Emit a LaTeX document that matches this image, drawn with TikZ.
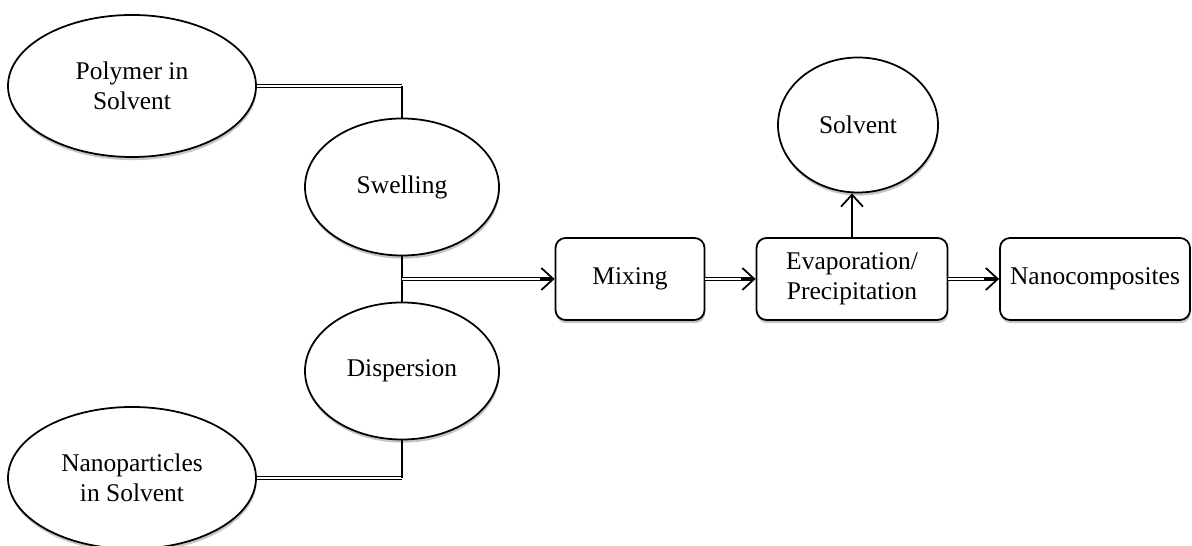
\documentclass[tikz,border=0pt]{standalone}
\usepackage{fontspec}
\setmainfont{Liberation Serif}
\usetikzlibrary{shapes.geometric,arrows.meta,shadows}
\begin{document}
\begin{tikzpicture}[line width=1pt,font=\fontsize{14.5}{17}\selectfont,
  bubble/.style={ellipse,draw,fill=white,inner sep=0pt,align=center,
    drop shadow={shadow xshift=0.4pt,shadow yshift=-1.8pt,fill=black!45}},
  stepbox/.style={rectangle,rounded corners=0.2cm,draw,fill=white,align=center,
    inner sep=0pt,minimum height=1.64cm,
    drop shadow={shadow xshift=0.4pt,shadow yshift=-1.8pt,fill=black!45}},
  dline/.style={double,double distance=1.3pt,line width=0.6pt},
  darrow/.style={dline,shorten >=1.5pt},
  barb/.style={line width=1pt,-{Straight Barb[length=2.4mm,width=4.4mm]}}]
  \useasboundingbox (0,0) rectangle (23.84,10.92);

  % starting solutions
  \node[bubble,minimum width=4.96cm,minimum height=2.84cm] (poly) at (2.64,9.2) {Polymer in\\Solvent};
  \node[bubble,minimum width=4.96cm,minimum height=2.84cm] (nano) at (2.64,1.36) {Nanoparticles\\in Solvent};

  % swelling / dispersion
  \node[bubble,minimum width=3.88cm,minimum height=2.74cm] (swell) at (8.04,7.18) {Swelling};
  \node[bubble,minimum width=3.88cm,minimum height=2.74cm] (disp) at (8.04,3.5) {Dispersion};

  % process steps
  \node[stepbox,minimum width=2.98cm] (mix) at (12.6,5.34) {Mixing};
  \node[stepbox,minimum width=3.82cm] (evap) at (17.04,5.34) {Evaporation/\\Precipitation};
  \node[stepbox,minimum width=3.8cm] (nanoc) at (21.9,5.34) {Nanocomposites};
  \node[bubble,minimum width=3.2cm,minimum height=2.7cm] (solv) at (17.16,8.42) {Solvent};

  \coordinate (polyjoin) at (swell.north |- poly.east);
  \coordinate (nanojoin) at (disp.south |- nano.east);
  \coordinate (mixjoin) at (swell.south |- mix.west);

  % connectors
  \draw[dline] (poly.east) -- (polyjoin);
  \draw (polyjoin) -- (swell.north);
  \draw[dline] (nano.east) -- (nanojoin);
  \draw (nanojoin) -- (disp.south);
  \draw (swell.south) -- (disp.north);
  \draw[darrow] (mixjoin) -- (mix.west);
  \draw[darrow] (mix.east) -- (evap.west);
  \draw[darrow] (evap.east) -- (nanoc.west);
  \draw[barb] ([xshift=-3mm]mix.west) -- (mix.west);
  \draw[barb] ([xshift=-3mm]evap.west) -- (evap.west);
  \draw[barb] ([xshift=-3mm]nanoc.west) -- (nanoc.west);
  \draw[barb] (evap.north) -- (evap.north |- solv.south);
\end{tikzpicture}
\end{document}
